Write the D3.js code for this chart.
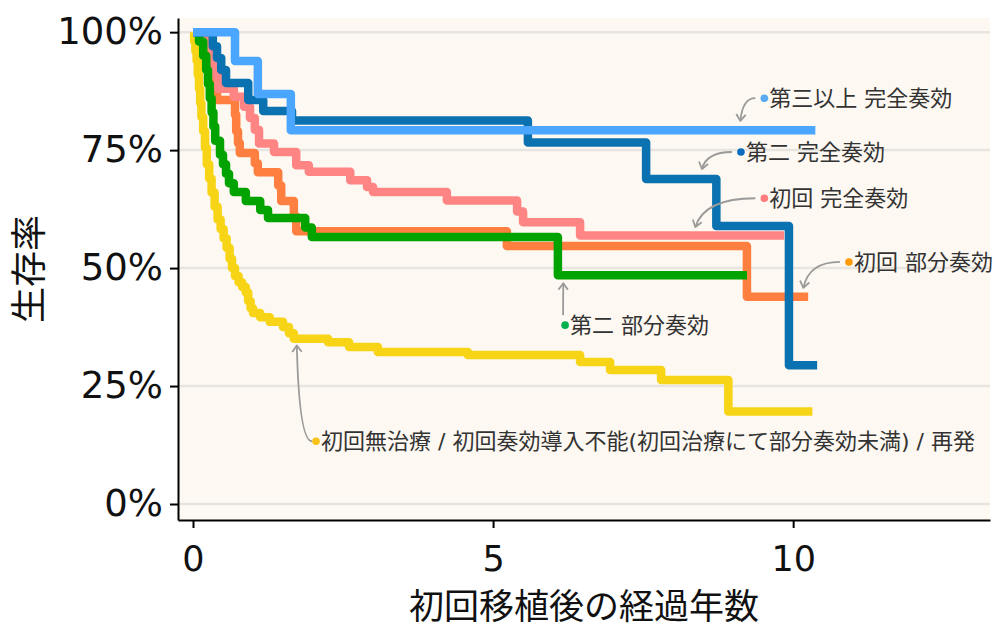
<!DOCTYPE html>
<html><head><meta charset="utf-8">
<script src="https://cdn.jsdelivr.net/npm/d3@7"></script>
<style>body{margin:0;background:#fff}</style>
</head><body>
<svg id="chart" width="996" height="628"></svg>
<script>
// ---------------- data ----------------
const seriesNames = [
  "初回無治療 / 初回奏効導入不能(初回治療にて部分奏効未満) / 再発",
  "初回 部分奏効",
  "初回 完全奏効",
  "第二 部分奏効",
  "第二 完全奏効",
  "第三以上 完全奏効"
];
const yTickValues = [0, 25, 50, 75, 100];
const xTickValues = [0, 5, 10];

// years after first transplant, survival (%)
const noTxTime = [0,0.02,0.04,0.06,0.08,0.1,0.12,0.14,0.17,0.2,0.23,0.27,0.31,0.36,0.41,0.46,0.51,0.56,0.61,0.65,0.7,0.76,0.82,0.88,0.92,0.96,1.0,1.12,1.28,1.5,1.6,1.68,2.25,2.6,3.08,4.58,6.45,6.95,7.8,8.92,10.32];
const noTxSurv = [100,98,96,94,91,88,85,82,79,75.5,72,69,66,63,60.3,58.3,56.3,54.3,52,50,48.3,47,46,44.8,43,41.5,40.5,39.6,38.6,37.5,36.2,35.0,34.3,33.3,32.2,31.6,30.1,28.4,26.3,19.6,19.6];

const firstPRTime = [0,0.2,0.25,0.3,0.35,0.4,0.7,0.72,0.75,0.78,1.03,1.08,1.42,1.47,1.68,1.72,5.23,9.23,10.25];
const firstPRSurv = [100,97,94,91,88,85.6,82.5,79,76.5,74.4,72.2,70.3,67.5,64.2,61,57.8,54.7,43.9,43.9];

const firstCRTime = [0,0.2,0.27,0.35,0.42,0.68,0.85,0.95,1.03,1.1,1.35,1.72,1.93,2.62,2.9,3.0,4.23,5.4,5.5,6.45,9.85];
const firstCRSurv = [100,97,94,91,88,86.3,84.2,81.8,79.3,76.4,74.6,71.8,70.4,68.6,67.2,66.1,64.3,62,59.7,56.9,56.9];

const secondPRTime = [0,0.1,0.17,0.22,0.25,0.28,0.31,0.34,0.37,0.45,0.5,0.55,0.6,0.68,0.88,1.12,1.25,1.87,1.98,6.08,9.23];
const secondPRSurv = [100,98,95,92,89,86,83,80,77,74,72,70,68,66.1,64.2,62.3,60.6,58.6,56.6,48.5,48.5];

const secondCRTime = [0,0.33,0.4,0.47,0.55,0.92,1.17,1.65,5.58,7.55,8.72,9.93,10.4];
const secondCRSurv = [100,97,94.5,92,89.2,85.6,83.3,81.3,76.6,68.9,58.9,29.4,29.4];

const thirdCRTime = [0,0.7,1.08,1.63,10.37];
const thirdCRSurv = [100,93.9,86.9,79.2,79.2];

// ---------------- config ----------------
const seriesList = [
  {name: seriesNames[0], time: noTxTime, surv: noTxSurv, color: "#f7d516", dot: "#f9c21a"},
  {name: seriesNames[1], time: firstPRTime, surv: firstPRSurv, color: "#ff7f40", dot: "#ff9a0a"},
  {name: seriesNames[2], time: firstCRTime, surv: firstCRSurv, color: "#ff8585", dot: "#ff7d7d"},
  {name: seriesNames[3], time: secondPRTime, surv: secondPRSurv, color: "#00a300", dot: "#00b04f"},
  {name: seriesNames[4], time: secondCRTime, surv: secondCRSurv, color: "#0a72b0", dot: "#0a6cbf"},
  {name: seriesNames[5], time: thirdCRTime, surv: thirdCRSurv, color: "#4aa6ff", dot: "#5aaaf0"}
];

// annotation anchors in data units: label dot, arrow tip
const annotations = [
  {s: 0, dot: [2.05, 13.3], tip: [1.73, 33.6], off: [-4, 0]},
  {s: 1, dot: [10.93, 51.3], tip: [10.17, 45.8], off: [-9, 0]},
  {s: 2, dot: [9.52, 64.8], tip: [8.37, 58.7], off: [-9, 0]},
  {s: 3, dot: [6.2, 37.9], tip: [6.17, 46.8], off: [-2, -10]},
  {s: 4, dot: [9.13, 74.6], tip: [8.48, 71.0], off: [-9, 0]},
  {s: 5, dot: [9.52, 86.0], tip: [9.12, 81.2], off: [-9, 0]}
];

const mLeft = 178, mRight = 990, mTop = 18, mBottom = 520;

const svg = d3.select("#chart");
const x = d3.scaleLinear().domain([-0.25, 13.28]).range([mLeft, mRight]);
const y = d3.scaleLinear().domain([-3.39, 103]).range([mBottom, mTop]);

// panel
svg.append("rect").attr("x", mLeft).attr("y", mTop).attr("width", mRight - mLeft).attr("height", mBottom - mTop)
  .attr("fill", "#fdf8f1");

// grid
svg.append("g").selectAll("line").data(yTickValues).join("line")
  .attr("x1", mLeft).attr("x2", mRight)
  .attr("y1", d => y(d)).attr("y2", d => y(d))
  .attr("stroke", "#e8e5e1").attr("stroke-width", 2.5);

// lines
const line = d3.line().curve(d3.curveStepAfter).x(d => x(d[0])).y(d => y(d[1]));
svg.append("g").selectAll("path").data(seriesList).join("path")
  .attr("d", s => line(s.time.map((t, i) => [t, s.surv[i]])))
  .attr("fill", "none")
  .attr("stroke", s => s.color)
  .attr("stroke-width", 8.5)
  .attr("stroke-linejoin", "round")
  .attr("stroke-linecap", "butt");

// annotations
const ag = svg.append("g");
annotations.forEach(a => {
  const s = seriesList[a.s];
  const dx = x(a.dot[0]), dy = y(a.dot[1]);
  const tx = x(a.tip[0]), ty = y(a.tip[1]);
  const sx = dx + a.off[0], sy = dy + a.off[1];
  let cx, cy;
  if (Math.abs(sx - tx) < 4) { cx = sx; cy = (sy + ty) / 2; }
  else { cx = tx + 0.15 * (sx - tx); cy = sy; }
  ag.append("path")
    .attr("d", `M${sx},${sy} Q${cx},${cy} ${tx},${ty}`)
    .attr("fill", "none").attr("stroke", "#9a9a9a").attr("stroke-width", 1.8);
  const ang = Math.atan2(ty - cy, tx - cx);
  const L = 8, spread = Math.PI / 5;
  const p1 = [tx - L * Math.cos(ang - spread), ty - L * Math.sin(ang - spread)];
  const p2 = [tx - L * Math.cos(ang + spread), ty - L * Math.sin(ang + spread)];
  ag.append("path")
    .attr("d", `M${p1[0]},${p1[1]} L${tx},${ty} L${p2[0]},${p2[1]}`)
    .attr("fill", "none").attr("stroke", "#9a9a9a").attr("stroke-width", 1.8)
    .attr("stroke-linejoin", "round");
  ag.append("circle").attr("cx", dx).attr("cy", dy).attr("r", 3.8).attr("fill", s.dot);
  ag.append("text").attr("x", dx + 5).attr("y", dy).attr("dy", "0.36em")
    .attr("font-family", "'DejaVu Sans', 'Noto Sans CJK JP', sans-serif").attr("font-size", 22)
    .attr("fill", "#333").text(s.name);
});

// axes
const yAxis = d3.axisLeft(y).tickValues(yTickValues).tickFormat(d => d + "%")
  .tickSize(8).tickSizeOuter(0).tickPadding(7);
const gy = svg.append("g").attr("transform", `translate(${mLeft},0)`).call(yAxis);
const xAxis = d3.axisBottom(x).tickValues(xTickValues).tickFormat(d3.format("d"))
  .tickSize(8).tickSizeOuter(0).tickPadding(18);
const gx = svg.append("g").attr("transform", `translate(0,${mBottom})`).call(xAxis);
[gx, gy].forEach(g => {
  g.select(".domain").attr("stroke", "#000").attr("stroke-width", 2);
  g.selectAll(".tick line").attr("stroke", "#000").attr("stroke-width", 2);
  g.selectAll(".tick text").attr("fill", "#111")
    .attr("font-family", "'DejaVu Sans', sans-serif").attr("font-size", 35);
});
gy.selectAll(".tick text").attr("font-size", 37);

// axis titles
svg.append("text").attr("x", (mLeft + mRight) / 2).attr("y", 619)
  .attr("text-anchor", "middle").attr("font-family", "'Noto Sans CJK JP', sans-serif")
  .attr("font-size", 35).attr("fill", "#111").text("初回移植後の経過年数");
svg.append("text").attr("transform", `translate(42,${(mTop + mBottom) / 2}) rotate(-90)`)
  .attr("text-anchor", "middle").attr("font-family", "'Noto Sans CJK JP', sans-serif")
  .attr("font-size", 36).attr("fill", "#111").text("生存率");
</script>
</body></html>
